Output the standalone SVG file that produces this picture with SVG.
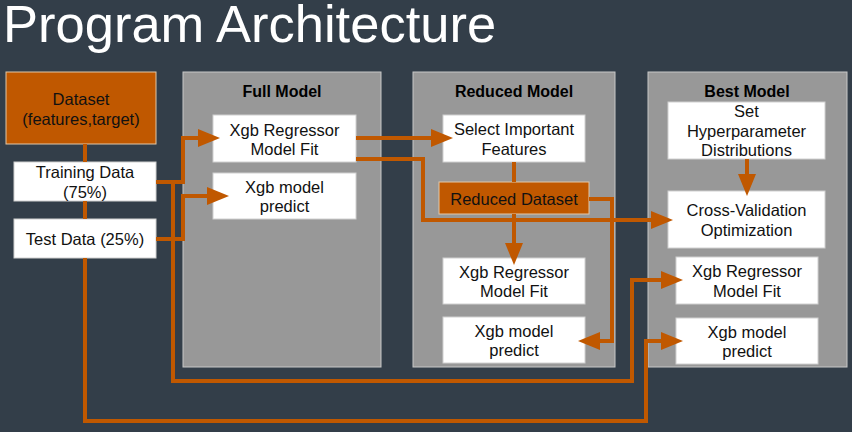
<svg xmlns="http://www.w3.org/2000/svg" width="852" height="432" viewBox="0 0 852 432">
<defs>
<style>
.bg{fill:#333E49}
.title{font-family:"Liberation Sans",Arial,sans-serif;font-size:52.5px;fill:#ffffff}
.panel{fill:#989898;stroke:#C8C8C8;stroke-width:1}
.ptitle{font-family:"Liberation Sans",Arial,sans-serif;font-size:16px;font-weight:bold;fill:#000;text-anchor:middle}
.box{fill:#ffffff;stroke:#D0D0D0;stroke-width:1}
.obox{fill:#C05800;stroke:#E2C7A8;stroke-width:1}
.t{font-family:"Liberation Sans",Arial,sans-serif;font-size:16.5px;fill:#111;text-anchor:middle}
.c{fill:none;stroke:#C05800;stroke-width:4;stroke-linejoin:miter}
.a{marker-end:url(#arr)}
</style>
<marker id="arr" markerUnits="userSpaceOnUse" markerWidth="22" markerHeight="18" refX="0" refY="9" orient="auto">
<path d="M0,0 L22,9 L0,18 z" fill="#C05800"/>
</marker>
</defs>
<rect class="bg" x="0" y="0" width="852" height="432"/>
<text class="title" x="3" y="42">Program Architecture</text>

<g id="panel-full">
<rect class="panel" x="183" y="72" width="198" height="295"/>
<text class="ptitle" x="282" y="97">Full Model</text>
</g>
<g id="panel-reduced">
<rect class="panel" x="413" y="72" width="202" height="295"/>
<text class="ptitle" x="514" y="97">Reduced Model</text>
</g>
<g id="panel-best">
<rect class="panel" x="648" y="72" width="199" height="295"/>
<text class="ptitle" x="747" y="97">Best Model</text>
</g>

<g id="dataset">
<rect class="obox" x="6" y="72" width="150" height="72"/>
<text class="t" x="81" y="105">Dataset</text>
<text class="t" x="81" y="125">(features,target)</text>
</g>
<g id="training">
<rect class="box" x="14" y="162" width="142" height="39"/>
<text class="t" x="85" y="178">Training Data</text>
<text class="t" x="85" y="198">(75%)</text>
</g>
<g id="test">
<rect class="box" x="14" y="219" width="142" height="39"/>
<text class="t" x="85" y="245">Test Data (25%)</text>
</g>

<g id="full-fit">
<rect class="box" x="213" y="115" width="143" height="47"/>
<text class="t" x="284.5" y="135.5">Xgb Regressor</text>
<text class="t" x="284.5" y="155">Model Fit</text>
</g>
<g id="full-predict">
<rect class="box" x="213" y="173" width="143" height="46"/>
<text class="t" x="284.5" y="193">Xgb model</text>
<text class="t" x="284.5" y="212">predict</text>
</g>

<g id="select-features">
<rect class="box" x="443" y="115" width="142" height="47"/>
<text class="t" x="514" y="135">Select Important</text>
<text class="t" x="514" y="154.5">Features</text>
</g>
<g id="reduced-dataset">
<rect class="obox" x="439" y="182" width="150" height="32"/>
<text class="t" x="514" y="204.5">Reduced Dataset</text>
</g>
<g id="reduced-fit">
<rect class="box" x="443" y="258" width="142" height="46"/>
<text class="t" x="514" y="278">Xgb Regressor</text>
<text class="t" x="514" y="297">Model Fit</text>
</g>
<g id="reduced-predict">
<rect class="box" x="443" y="317" width="142" height="46"/>
<text class="t" x="514" y="336.5">Xgb model</text>
<text class="t" x="514" y="355.5">predict</text>
</g>

<g id="hyperparams">
<rect class="box" x="668" y="102" width="157" height="57"/>
<text class="t" x="746.5" y="117">Set</text>
<text class="t" x="746.5" y="137">Hyperparameter</text>
<text class="t" x="746.5" y="156">Distributions</text>
</g>
<g id="cv-opt">
<rect class="box" x="668" y="191" width="157" height="57"/>
<text class="t" x="746.5" y="216">Cross-Validation</text>
<text class="t" x="746.5" y="235.5">Optimization</text>
</g>
<g id="best-fit">
<rect class="box" x="676" y="257" width="142" height="47"/>
<text class="t" x="747" y="277">Xgb Regressor</text>
<text class="t" x="747" y="296.5">Model Fit</text>
</g>
<g id="best-predict">
<rect class="box" x="676" y="318" width="142" height="46"/>
<text class="t" x="747" y="337.5">Xgb model</text>
<text class="t" x="747" y="356.5">predict</text>
</g>

<g id="connectors">
<path class="c" d="M85,144 V162"/>
<path class="c" d="M85,201 V219"/>
<path class="c a" d="M85,258 V421 H646 V341 H661"/>
<path class="c a" d="M156,182 H183 V138 H198"/>
<path class="c a" d="M173,182 V381 H632 V280 H661"/>
<path class="c a" d="M156,239 H183 V196 H207"/>
<path class="c a" d="M356,138 H431"/>
<path class="c a" d="M356,159 H423 V220 H651"/>
<path class="c" d="M514,162 V182"/>
<path class="c a" d="M514,214 V243"/>
<path class="c a" d="M589,199 H612 V341 H600"/>
<path class="c a" d="M747,159 V174"/>
</g>
</svg>
